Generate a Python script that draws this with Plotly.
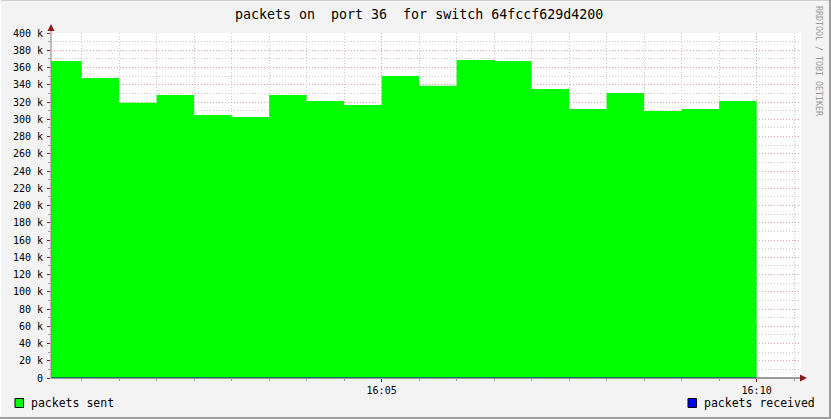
import plotly.graph_objects as go

# ---- data ----
bar_starts = ["2024-01-01 16:00:30", "2024-01-01 16:01:00", "2024-01-01 16:01:30",
              "2024-01-01 16:02:00", "2024-01-01 16:02:30", "2024-01-01 16:03:00",
              "2024-01-01 16:03:30", "2024-01-01 16:04:00", "2024-01-01 16:04:30",
              "2024-01-01 16:05:00", "2024-01-01 16:05:30", "2024-01-01 16:06:00",
              "2024-01-01 16:06:30", "2024-01-01 16:07:00", "2024-01-01 16:07:30",
              "2024-01-01 16:08:00", "2024-01-01 16:08:30", "2024-01-01 16:09:00",
              "2024-01-01 16:09:30"]
data_end = "2024-01-01 16:10:00"
packets_sent = [367500, 347800, 319200, 328100, 304900, 302600, 328100, 321200, 316500,
                350100, 338900, 368700, 367500, 335000, 311900, 330400, 309600, 311900,
                321200]
packets_received = [0] * len(packets_sent)

y_tick_vals = [0, 20000, 40000, 60000, 80000, 100000, 120000, 140000, 160000, 180000,
               200000, 220000, 240000, 260000, 280000, 300000, 320000, 340000, 360000,
               380000, 400000]
y_tick_text = ["0", "20 k", "40 k", "60 k", "80 k", "100 k", "120 k", "140 k", "160 k",
               "180 k", "200 k", "220 k", "240 k", "260 k", "280 k", "300 k", "320 k",
               "340 k", "360 k", "380 k", "400 k"]
x_range = ["2024-01-01 16:00:35.5", "2024-01-01 16:10:35.5"]

title = "packets on  port 36  for switch 64fccf629d4200"
legend_labels = ["packets sent", "packets received"]
legend_colors = ["#00FF00", "#0000FF"]

# ---- geometry ----
W, H = 831, 419
L, R, T, B = 51, 30, 33, 41
PW, PH = W - L - R, H - T - B
FONT = "DejaVu Sans Mono"


def px(x):
    return (x - L) / PW


def py(y):
    return (H - B - y) / PH


fig = go.Figure()

xs = bar_starts + [data_end]
ys = packets_sent + [packets_sent[-1]]
fig.add_trace(go.Scatter(x=xs, y=ys, mode="lines", line=dict(shape="hv", width=0, color="#00FF00"),
                         fill="tozeroy", fillcolor="#00FF00", showlegend=False, hoverinfo="skip"))
fig.add_trace(go.Scatter(x=xs, y=packets_received + [0], mode="lines",
                         line=dict(shape="hv", width=1.2, color="#0000B0"),
                         showlegend=False, hoverinfo="skip"))

MAJ = "#E7A3A3"
MIN = "#C9C9C9"
TICKRED = "#8B1A1A"

fig.update_xaxes(type="date", range=x_range, dtick=300000, tick0="2024-01-01 16:00:00",
                 tickformat="%H:%M", showgrid=True, gridcolor=MAJ, griddash="1px,2px", gridwidth=1,
                 ticks="outside", ticklen=3, tickcolor=TICKRED,
                 minor=dict(dtick=30000, tick0="2024-01-01 16:00:00", showgrid=True,
                            gridcolor=MIN, griddash="1px,2px", ticks="outside", ticklen=2,
                            tickcolor="#999999"),
                 tickfont=dict(family=FONT, size=10, color="#000000"),
                 showline=False, zeroline=False, layer="above traces")
fig.update_yaxes(range=[0, 400000], tickvals=y_tick_vals, ticktext=y_tick_text,
                 showgrid=True, gridcolor=MAJ, griddash="1px,2px", gridwidth=1,
                 ticks="outside", ticklen=3, tickcolor=TICKRED, ticklabelstandoff=2,
                 minor=dict(dtick=10000, showgrid=True, gridcolor=MIN, griddash="1px,2px",
                            ticks="outside", ticklen=2, tickcolor="#999999"),
                 tickfont=dict(family=FONT, size=10, color="#000000"),
                 showline=False, zeroline=False, layer="above traces")

shapes = []
# axes lines
shapes.append(dict(type="line", xref="paper", yref="paper", x0=px(51), x1=px(803),
                   y0=py(378), y1=py(378), line=dict(color="#404040", width=1), layer="below"))
shapes.append(dict(type="line", xref="paper", yref="paper", x0=px(51), x1=px(51),
                   y0=py(378), y1=py(26), line=dict(color="#808080", width=1), layer="above"))
# arrows
shapes.append(dict(type="path", xref="paper", yref="paper",
                   path=f"M {px(47.5)} {py(31)} L {px(54.5)} {py(31)} L {px(51)} {py(24)} Z",
                   fillcolor=TICKRED, line=dict(width=0)))
shapes.append(dict(type="path", xref="paper", yref="paper",
                   path=f"M {px(800)} {py(374.5)} L {px(800)} {py(381.5)} L {px(807)} {py(378)} Z",
                   fillcolor=TICKRED, line=dict(width=0)))
# border
shapes.append(dict(type="line", xref="paper", yref="paper", x0=px(0), x1=px(W), y0=py(0.5), y1=py(0.5),
                   line=dict(color="#CFCFCF", width=1)))
shapes.append(dict(type="line", xref="paper", yref="paper", x0=px(0.5), x1=px(0.5), y0=py(0), y1=py(H),
                   line=dict(color="#FFFFFF", width=1)))
shapes.append(dict(type="line", xref="paper", yref="paper", x0=px(0), x1=px(W), y0=py(418), y1=py(418),
                   line=dict(color="#9E9E9E", width=2)))
shapes.append(dict(type="line", xref="paper", yref="paper", x0=px(830), x1=px(830), y0=py(0), y1=py(H),
                   line=dict(color="#9E9E9E", width=2)))
# legend squares
for (x0, col) in [(15, legend_colors[0]), (688, legend_colors[1])]:
    shapes.append(dict(type="rect", xref="paper", yref="paper", x0=px(x0), x1=px(x0 + 8.5),
                       y0=py(407.5), y1=py(398.5), fillcolor=col, line=dict(color="#000000", width=1)))

annotations = [
    dict(text=title, xref="paper", yref="paper", x=px(418.5), y=py(14), xanchor="center",
         yanchor="middle", showarrow=False, font=dict(family=FONT, size=13.3, color="#000000")),
    dict(text="RRDTOOL / TOBI OETIKER", xref="paper", yref="paper", x=px(819), y=py(61),
         xanchor="center", yanchor="middle", textangle=90, showarrow=False,
         font=dict(family=FONT, size=8.3, color="#9A9A9A")),
    dict(text=legend_labels[0], xref="paper", yref="paper", x=px(29), y=py(403),
         xanchor="left", yanchor="middle", showarrow=False,
         font=dict(family=FONT, size=11.5, color="#000000")),
    dict(text=legend_labels[1], xref="paper", yref="paper", x=px(702), y=py(403),
         xanchor="left", yanchor="middle", showarrow=False,
         font=dict(family=FONT, size=11.5, color="#000000")),
]

fig.update_layout(width=W, height=H, margin=dict(l=L, r=R, t=T, b=B, pad=0),
                  paper_bgcolor="#F3F3F3", plot_bgcolor="#FFFFFF",
                  showlegend=False, shapes=shapes, annotations=annotations)

fig.write_html("out.html")
